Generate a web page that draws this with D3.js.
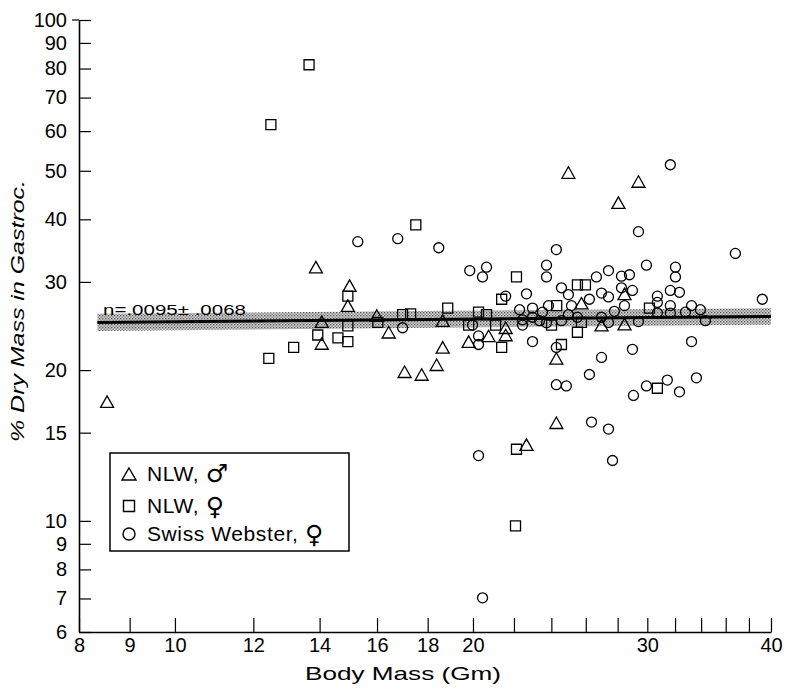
<!DOCTYPE html>
<html><head><meta charset="utf-8">
<script src="https://cdn.jsdelivr.net/npm/d3@7"></script>
<style>body{margin:0;background:#fff} svg{display:block}</style>
</head><body>
<svg id="chart" width="789" height="689"></svg>
<script>
// ---------- data ----------
const xTickValues = [8,9,10,12,14,16,18,20,22,24,26,28,30,32,34,36,38,40];
const xTickLabels = [8,9,10,12,14,16,18,20,30,40];
const yTickValues = [6,7,8,9,10,15,20,30,40,50,60,70,80,90,100];

const nlwMale = [[8.54,17.3],[13.88,32.1],[15.01,29.5],[14.95,26.9],[14.07,25.0],[14.07,22.6],[15.99,25.7],[16.44,23.8],[17.06,19.85],[17.75,19.6],[18.64,25.1],[18.64,22.2],[18.38,20.5],[19.80,22.8],[20.74,23.4],[21.58,24.3],[21.58,23.5],[22.65,14.2],[24.28,15.7],[24.28,21.1],[25.74,27.2],[24.97,49.6],[29.39,47.6],[28.05,43.2],[28.45,28.4],[26.97,24.6],[28.45,24.7]];
const nlwFemale = [[13.66,81.4],[12.50,61.8],[12.44,21.1],[13.18,22.2],[13.94,23.5],[14.61,23.2],[14.95,22.8],[14.95,28.1],[14.95,24.5],[16.03,24.9],[16.98,25.8],[17.30,25.9],[17.51,39.0],[18.86,26.6],[20.26,26.1],[20.64,25.8],[19.80,24.6],[21.08,24.6],[21.38,27.7],[21.38,22.2],[22.13,30.7],[22.08,9.77],[22.13,13.9],[24.3,26.9],[24.01,24.6],[24.57,22.5],[25.50,29.6],[25.98,29.6],[25.74,24.9],[25.50,23.8],[30.15,26.6],[30.71,18.4]];
const swissFemale = [[15.30,36.1],[16.79,36.6],[16.98,24.3],[18.47,35.1],[19.85,31.6],[20.64,32.1],[20.45,30.7],[19.98,24.6],[20.26,23.4],[20.26,22.5],[20.26,13.5],[20.45,7.02],[21.58,28.1],[22.65,28.4],[22.29,26.4],[22.44,25.2],[22.44,24.6],[22.97,26.6],[22.97,25.5],[22.97,22.8],[23.51,26.1],[23.84,26.9],[23.73,24.85],[23.73,32.4],[23.73,30.7],[24.28,34.8],[24.28,22.2],[24.28,18.7],[24.85,18.6],[24.57,29.2],[24.97,28.3],[24.57,25.1],[24.97,25.8],[25.15,26.9],[26.22,27.7],[25.5,25.5],[26.22,19.6],[26.35,15.75],[27.41,15.25],[27.67,13.2],[26.65,30.7],[27.41,31.6],[28.25,30.8],[28.78,31.0],[26.97,28.5],[27.41,28.0],[28.25,29.2],[28.98,28.85],[26.97,25.5],[27.41,24.9],[27.79,26.2],[28.45,26.9],[29.39,25.0],[26.97,21.2],[28.98,22.0],[29.05,17.8],[29.39,37.8],[29.94,32.4],[30.71,28.1],[30.71,27.3],[30.71,26.0],[31.65,51.4],[32.03,32.1],[32.03,30.7],[31.65,28.85],[32.33,28.6],[31.65,26.9],[31.65,26.0],[32.78,26.1],[33.25,26.9],[33.94,26.4],[34.34,25.1],[33.25,22.8],[29.94,18.6],[31.43,19.1],[33.63,19.3],[32.33,18.1],[36.82,34.2],[39.20,27.7],[23.35,25.1]];

const fitX = [8.35, 40];
const fitY = [24.9, 25.6];
const bandLow = [23.95, 24.65];
const bandHigh = [25.9, 26.6];
const fitLabel = "n=.0095\u00B1 .0068";
const legendNames = ["NLW,", "NLW,", "Swiss Webster,"];
const legendSex = ["\u2642", "\u2640", "\u2640"];
const xTitle = "Body Mass (Gm)";
const yTitle = "% Dry Mass in Gastroc.";

// ---------- drawing ----------
const svg = d3.select("#chart");
const x = d3.scaleLog().domain([8, 40]).range([79, 771]);
const y = d3.scaleLog().domain([6, 100]).range([632, 20]);
const font = "'Liberation Sans', Arial, sans-serif";

const defs = svg.append("defs");
const pat = defs.append("pattern").attr("id","stip").attr("patternUnits","userSpaceOnUse")
  .attr("width",3).attr("height",3);
pat.append("rect").attr("width",3).attr("height",3).attr("fill","#cfcfcf");
pat.append("rect").attr("x",0).attr("y",0).attr("width",1.3).attr("height",1.3).attr("fill","#555");
pat.append("rect").attr("x",1.5).attr("y",1.5).attr("width",1.3).attr("height",1.3).attr("fill","#777");

const bandData = fitX.map((v,i)=>({x:v, lo:bandLow[i], hi:bandHigh[i]}));
svg.append("path").datum(bandData)
  .attr("d", d3.area().x(d=>x(d.x)).y0(d=>y(d.lo)).y1(d=>y(d.hi)))
  .attr("fill","url(#stip)");

svg.append("path").datum(fitX.map((v,i)=>[v, fitY[i]]))
  .attr("d", d3.line().x(d=>x(d[0])).y(d=>y(d[1])))
  .attr("stroke","#000").attr("stroke-width",3).attr("fill","none");

svg.append("text").attr("x", 103).attr("y", y(25.75))
  .attr("font-family", font).attr("font-size", 15).attr("textLength", 143)
  .attr("lengthAdjust","spacingAndGlyphs").text(fitLabel);

const xAxis = d3.axisBottom(x).tickValues(xTickValues)
  .tickFormat(d => xTickLabels.includes(d) ? d : "")
  .tickSizeInner(-14).tickSizeOuter(0).tickPadding(6);
const gx = svg.append("g").attr("transform","translate(0,632)").call(xAxis);
gx.selectAll("text").attr("font-family", font).attr("font-size", 20).attr("fill","#000");
gx.select(".domain").attr("stroke-width",1.6);
gx.selectAll(".tick line").attr("stroke-width",1.2);

const yAxis = d3.axisLeft(y).tickValues(yTickValues).tickFormat(d3.format("d"))
  .tickSizeInner(-12).tickSizeOuter(0).tickPadding(12);
const gy = svg.append("g").attr("transform","translate(79,0)").call(yAxis);
gy.selectAll("text").attr("font-family", font).attr("font-size", 20).attr("fill","#000");
gy.select(".domain").attr("stroke-width",1.6);
gy.selectAll(".tick line").attr("stroke-width",1.2);
svg.append("line").attr("x1",72).attr("x2",79).attr("y1",y(100)).attr("y2",y(100))
  .attr("stroke","#000").attr("stroke-width",1.2);

svg.append("text").attr("x", 403).attr("y", 680).attr("text-anchor","middle")
  .attr("font-family", font).attr("font-size", 19).attr("textLength",196)
  .attr("lengthAdjust","spacingAndGlyphs").text(xTitle);
svg.append("text").attr("transform","translate(24,311) rotate(-90)").attr("text-anchor","middle")
  .attr("font-family", font).attr("font-style","italic").attr("font-size", 19)
  .attr("textLength",262).attr("lengthAdjust","spacingAndGlyphs").text(yTitle);

function triPath(w,h){ return `M0,${-h/2}L${w/2},${h/2}L${-w/2},${h/2}Z`; }
function sqPath(s){ return `M${-s/2},${-s/2}h${s}v${s}h${-s}Z`; }
function circPath(r){ return `M${r},0A${r},${r},0,1,1,${-r},0A${r},${r},0,1,1,${r},0Z`; }
const shapes = [
  {data: nlwMale, path: triPath(13,11.5)},
  {data: nlwFemale, path: sqPath(10)},
  {data: swissFemale, path: circPath(5)}
];
shapes.forEach(s => {
  svg.append("g").selectAll("path").data(s.data).join("path")
    .attr("d", s.path)
    .attr("transform", d => `translate(${x(d[0])},${y(d[1])})`)
    .attr("fill","none").attr("stroke","#000").attr("stroke-width",1.3);
});

const lg = svg.append("g");
lg.append("rect").attr("x",110).attr("y",453).attr("width",239).attr("height",98)
  .attr("fill","#fff").attr("stroke","#000").attr("stroke-width",1.5);
const legendPaths = [triPath(14,12), sqPath(11), circPath(6)];
const rowsY = [474, 506, 534];
legendNames.forEach((t,i) => {
  lg.append("path").attr("d", legendPaths[i]).attr("transform",`translate(129,${rowsY[i]})`)
    .attr("fill","none").attr("stroke","#000").attr("stroke-width",1.4);
  const tx = lg.append("text").attr("x",147).attr("y",rowsY[i]+7).attr("font-family",font)
    .attr("font-size",21).attr("letter-spacing",0.6);
  tx.append("tspan").text(t + " ");
  tx.append("tspan").attr("font-family","'DejaVu Sans', sans-serif").attr("font-size",25)
    .attr("dy", i===0 ? 1 : 2).text(legendSex[i]);
});
</script>
</body></html>
